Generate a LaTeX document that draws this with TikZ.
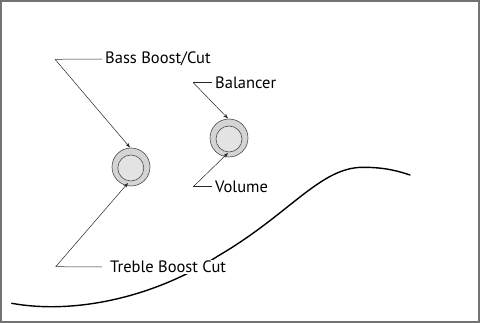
\documentclass[tikz,border=0pt]{standalone}
\usepackage{fontspec}
\setmainfont{PT Sans}
\usetikzlibrary{arrows.meta,calc}
\begin{document}
\begin{tikzpicture}[x=1pt,y=-1pt,
  lbl/.style={anchor=west,fill=white,inner xsep=3pt,inner ysep=1pt,font=\fontsize{16.5}{18}\selectfont},
  knobouter/.style={circle,draw=black!70,line width=0.6pt,fill=black!17,minimum size=38pt,inner sep=0pt},
  knobinner/.style={circle,draw=black!70,line width=0.6pt,fill=black!11,minimum size=26pt,inner sep=0pt},
  leader/.style={draw=black!85,line width=0.5pt},
  pointer/.style={leader,-{Stealth[length=5pt,width=3.5pt]}},
  body/.style={draw=black,line width=1.4pt,line cap=round}]
\useasboundingbox (0,0) rectangle (480,323);
\draw[draw=black!55,line width=1.6pt] (0.8,0.8) rectangle (479.2,322.2);
% body curve
\draw[body] (11.7,303.3) .. controls (70,314) and (150,300) .. (218,256)
  .. controls (290,214) and (320,167.3) .. (363,167.3)
  .. controls (385,167.3) and (398,171) .. (410,175);
% knobs
\node[knobouter] (k1) at (131,167) {};
\node[knobinner] (k1i) at (130.8,168) {};
\node[knobouter] (k2) at (229,138) {};
\node[knobinner] (k2i) at (229,139) {};
% labels
\node[lbl] (bass) at (102,59) {Bass Boost/Cut};
\node[lbl] (treble) at (107,267) {Treble Boost Cut};
\node[lbl] (bal) at (212,82.7) {Balancer};
\node[lbl] (vol) at (212,186.7) {Volume};
% leader vertices
\coordinate (bv) at (55,59.3);
\coordinate (tv) at (55.7,266.7);
\coordinate (av) at (193.3,82.7);
\coordinate (vv) at (193.3,186.7);
\draw[leader] (bv) -- (bass.west);
\draw[leader,shorten >=5pt] (tv) -- (treble.west);
\draw[leader] (av) -- (bal.west);
\draw[leader] (vv) -- (vol.west);
\draw[pointer] (bv) -- ($(k1.center)+(-1,-19.5)$);
\draw[pointer] (tv) -- ($(k1.center)+(-3,16)$);
\draw[pointer] (av) -- ($(k2.center)+(-1,-19.5)$);
\draw[pointer] (vv) -- ($(k2.center)+(-1,15)$);
\end{tikzpicture}
\end{document}
